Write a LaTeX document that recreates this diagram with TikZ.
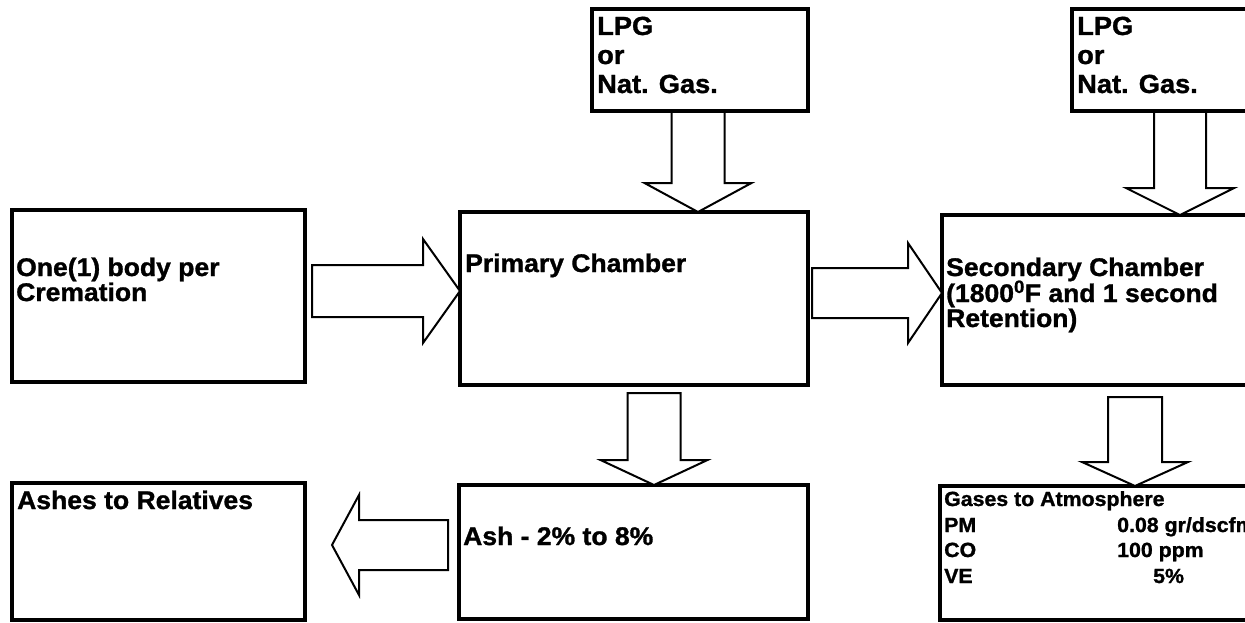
\documentclass[tikz,border=0pt]{standalone}
\usepackage{fontspec}
\setmainfont{Liberation Sans}[FakeStretch=1.04, FakeBold=1.2]
\usetikzlibrary{calc}
\tikzset{
  box/.style={draw, line width=4.2pt, rectangle, anchor=north west, inner sep=0pt, outer sep=0pt},
  txt/.style={anchor=base west, inner sep=0pt, font=\fontsize{25.5}{27}\selectfont\bfseries},
  lpgtxt/.style={txt, font=\fontsize{26.2}{28}\selectfont\bfseries},
  gastxt/.style={txt, font=\fontsize{20.5}{22}\selectfont\bfseries},
  arrowline/.style={draw, line width=2pt, line join=miter, fill=white},
  pics/barrow/.style n args={4}{code={
    \draw[arrowline] (0,0) -- (-#4,#3) -- (-#4,#2) -- (-#1,#2) -- (-#1,-#2) -- (-#4,-#2) -- (-#4,-#3) -- cycle;
  }}
}
\begin{document}
\begin{tikzpicture}[x=1pt,y=-1pt]
\useasboundingbox (0,0) rectangle (1245,623);
\clip (0,0) rectangle (1245,623);
\fill[white] (0,0) rectangle (1245,623);

% boxes
\node[box, minimum width=216pt, minimum height=102pt] (lpg1) at (592,9) {};
\node[box, minimum width=190pt, minimum height=102pt] (lpg2) at (1072,9) {};
\node[box, minimum width=293pt, minimum height=172pt] (one) at (12,210) {};
\node[box, minimum width=348pt, minimum height=173pt] (prim) at (460,212) {};
\node[box, minimum width=320pt, minimum height=170pt] (sec) at (942,215) {};
\node[box, minimum width=293pt, minimum height=137pt] (ashes) at (12,483) {};
\node[box, minimum width=349pt, minimum height=134pt] (ash) at (459,485) {};
\node[box, minimum width=320pt, minimum height=134pt] (gases) at (940,486) {};

% texts
\node[lpgtxt] (l1a) at (597,35) {LPG};
\node[lpgtxt] (l1b) at (597,64) {or};
\node[lpgtxt] (l1c) at (597,93) {Nat. Gas.};
\node[lpgtxt] (l2a) at (1077,35) {LPG};
\node[lpgtxt] (l2b) at (1077,64) {or};
\node[lpgtxt] (l2c) at (1077,93) {Nat. Gas.};
\node[txt] (t1a) at (16,276) {One(1) body per};
\node[txt] (t1b) at (16,301) {Cremation};
\node[txt] (t2a) at (465,272) {Primary Chamber};
\node[txt] (t3a) at (946,276) {Secondary Chamber};
\node[txt] (t3b) at (946,302) {(1800\textsuperscript{0}F and 1 second};
\node[txt] (t3c) at (946,327) {Retention)};
\node[txt] (t4a) at (17,509) {Ashes to Relatives};
\node[txt] (t5a) at (463,545) {Ash - 2\% to 8\%};
\node[gastxt] (g0) at (944,506) {Gases to Atmosphere};
\node[gastxt] (g1) at (944,532) {PM};
\node[gastxt] (g1v) at (1117,532) {0.08 gr/dscfm};
\node[gastxt] (g2) at (944,557) {CO};
\node[gastxt] (g2v) at (1117,557) {100 ppm};
\node[gastxt] (g3) at (944,583) {VE};
\node[gastxt] (g3v) at (1153,583) {5\%};

% block arrows
\pic at ($(prim.west)+(0,-7.5)$) {barrow={148}{26}{52}{37}};
\pic at ($(sec.west)+(0,-7)$) {barrow={130}{25}{50}{34}};
\pic[rotate=-90] at ($(lpg1.south|-prim.north)+(-2,0)$) {barrow={100}{26.5}{53.5}{29}};
\pic[rotate=-90] at ($(lpg2.south|-sec.north)+(13,0)$) {barrow={103}{26}{54}{27}};
\pic[rotate=-90] at ($(prim.south|-ash.north)+(20,0)$) {barrow={92}{26.5}{53.5}{25}};
\pic[rotate=-90] at ($(sec.south|-gases.north)+(33,0)$) {barrow={89}{27}{53}{24}};
\pic[rotate=180] at ($(ashes.east)+(27,-6.5)$) {barrow={116}{25}{50}{27}};
\end{tikzpicture}
\end{document}
